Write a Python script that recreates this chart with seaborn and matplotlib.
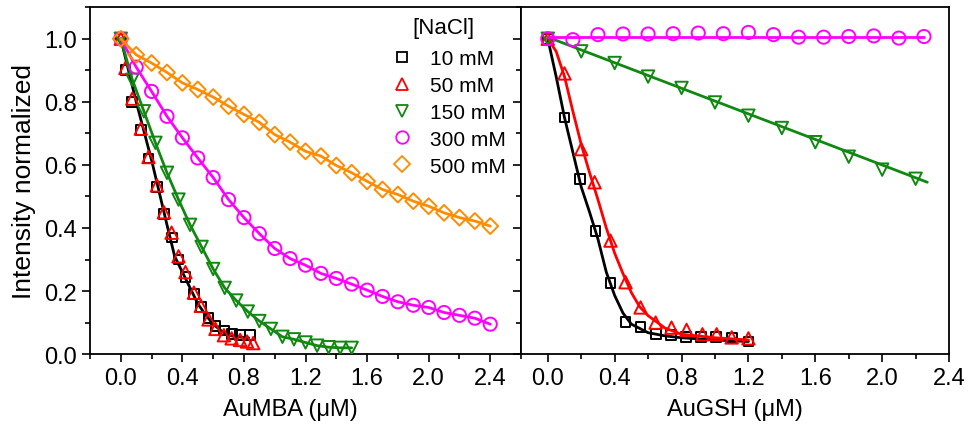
import matplotlib
matplotlib.use("Agg")
import matplotlib.pyplot as plt
import seaborn as sns
from matplotlib.lines import Line2D
from matplotlib.ticker import MultipleLocator, FormatStrFormatter

# ---------------- left panel: AuMBA ----------------
mba_10_x = [0, 0.03, 0.075, 0.13, 0.18, 0.235, 0.28, 0.33, 0.375, 0.42, 0.475, 0.52, 0.57, 0.615, 0.67, 0.72, 0.775, 0.84]
mba_10_y = [1.0, 0.90, 0.80, 0.71, 0.62, 0.53, 0.445, 0.37, 0.30, 0.245, 0.19, 0.15, 0.115, 0.09, 0.075, 0.065, 0.06, 0.06]
mba_50_x = [0, 0.03, 0.075, 0.13, 0.18, 0.235, 0.28, 0.33, 0.375, 0.42, 0.475, 0.52, 0.57, 0.615, 0.67, 0.72, 0.775, 0.82, 0.86]
mba_50_y = [1.0, 0.907, 0.81, 0.715, 0.625, 0.535, 0.45, 0.385, 0.31, 0.26, 0.195, 0.153, 0.11, 0.08, 0.06, 0.05, 0.045, 0.04, 0.035]
mba_150_x = [0, 0.075, 0.15, 0.225, 0.30, 0.375, 0.45, 0.525, 0.60, 0.675, 0.75, 0.825, 0.90, 0.975,
             1.05, 1.125, 1.20, 1.275, 1.35, 1.425, 1.5]
mba_150_y = [1.0, 0.87, 0.77, 0.67, 0.575, 0.49, 0.41, 0.34, 0.27, 0.21, 0.17, 0.135, 0.105, 0.08,
             0.055, 0.047, 0.037, 0.027, 0.022, 0.02, 0.02]
mba_300_x = [0, 0.1, 0.2, 0.3, 0.4, 0.5, 0.6, 0.7, 0.8, 0.9, 1.0, 1.1, 1.2, 1.3, 1.4, 1.5, 1.6,
             1.7, 1.8, 1.9, 2.0, 2.1, 2.2, 2.3, 2.4]
mba_300_y = [1.0, 0.91, 0.833, 0.754, 0.686, 0.622, 0.56, 0.49, 0.433, 0.382, 0.335, 0.303, 0.282,
             0.256, 0.24, 0.222, 0.203, 0.183, 0.166, 0.155, 0.148, 0.132, 0.123, 0.114, 0.095]
mba_500_x = mba_300_x
mba_500_y = [1.0, 0.949, 0.923, 0.893, 0.86, 0.839, 0.815, 0.786, 0.76, 0.735, 0.696, 0.672, 0.643,
             0.628, 0.598, 0.575, 0.548, 0.522, 0.506, 0.485, 0.469, 0.448, 0.433, 0.422, 0.406]

# fit curve for 10 mM
mba_fit10_x = [0, 0.1, 0.2, 0.3, 0.35, 0.4, 0.45, 0.5, 0.55, 0.6, 0.65, 0.7, 0.75, 0.83]
mba_fit10_y = [1.0, 0.80, 0.615, 0.41, 0.31, 0.26, 0.21, 0.16, 0.125, 0.095, 0.075, 0.06, 0.055, 0.052]

# ---------------- right panel: AuGSH ----------------
gsh_10_x = [0, 0.1, 0.195, 0.285, 0.375, 0.465, 0.555, 0.645, 0.735, 0.825, 0.915, 1.005, 1.1, 1.2]
gsh_10_y = [1.0, 0.75, 0.556, 0.39, 0.225, 0.102, 0.086, 0.064, 0.06, 0.055, 0.055, 0.055, 0.05, 0.04]
gsh_50_x = [0, 0.1, 0.2, 0.28, 0.375, 0.465, 0.555, 0.645, 0.74, 0.83, 0.925, 1.01, 1.1, 1.2]
gsh_50_y = [1.0, 0.89, 0.65, 0.545, 0.36, 0.228, 0.148, 0.10, 0.084, 0.077, 0.063, 0.063, 0.053, 0.05]
gsh_150_x = [0, 0.2, 0.4, 0.6, 0.8, 1.0, 1.2, 1.4, 1.6, 1.8, 2.0, 2.2]
gsh_150_y = [1.0, 0.96, 0.923, 0.88, 0.844, 0.798, 0.756, 0.717, 0.672, 0.626, 0.585, 0.556]
gsh_300_x = [0, 0.15, 0.3, 0.45, 0.6, 0.75, 0.9, 1.05, 1.2, 1.35, 1.5, 1.65, 1.8, 1.95, 2.1, 2.25]
gsh_300_y = [1.0, 0.997, 1.013, 1.015, 1.015, 1.016, 1.018, 1.016, 1.02, 1.013, 1.005, 1.005, 1.007,
             1.009, 1.002, 1.007]

gsh_fit10_x = [0, 0.05, 0.1, 0.15, 0.2, 0.25, 0.3, 0.35, 0.4, 0.45, 0.5, 0.6, 0.7, 0.8, 1.0, 1.2]
gsh_fit10_y = [1.0, 0.88, 0.75, 0.64, 0.53, 0.45, 0.365, 0.26, 0.186, 0.13, 0.095, 0.068, 0.058, 0.052, 0.045, 0.04]
gsh_fit50_x = [0, 0.05, 0.1, 0.15, 0.2, 0.25, 0.3, 0.35, 0.4, 0.45, 0.5, 0.55, 0.6, 0.7, 0.8, 1.0, 1.2]
gsh_fit50_y = [1.0, 0.96, 0.88, 0.77, 0.665, 0.575, 0.49, 0.40, 0.32, 0.255, 0.195, 0.15, 0.122, 0.083, 0.063, 0.052, 0.045]
gsh_fit150_x = [0, 2.27]
gsh_fit150_y = [1.005, 0.545]
gsh_fit300_x = [0, 2.25]
gsh_fit300_y = [1.007, 1.007]

labels = ['10 mM', '50 mM', '150 mM', '300 mM', '500 mM']
colors = ['black', '#FF0000', '#118811', '#FF00FF', '#FF8C00']
markers = ['s', '^', 'v', 'o', 'D']
sizes = [50, 80, 80, 90, 65]

sns.set_style("ticks")
plt.rcParams['font.family'] = ['Liberation Sans', 'DejaVu Sans']
for key in ('text.color', 'axes.labelcolor', 'xtick.color', 'ytick.color', 'axes.edgecolor'):
    plt.rcParams[key] = 'black'

fig = plt.figure(figsize=(9.71, 4.31), dpi=100)
ax1 = fig.add_axes([0.0927, 0.176, 0.4439, 0.805])
ax2 = fig.add_axes([0.5366, 0.176, 0.4408, 0.805])


def draw_points(ax, x, y, i):
    sns.scatterplot(x=x, y=y, ax=ax, marker=markers[i], s=sizes[i], facecolor='none',
                    edgecolor=colors[i], linewidth=1.4, zorder=3 + i)


def draw_line(ax, x, y, i):
    sns.lineplot(x=x, y=y, ax=ax, color=colors[i], linewidth=2.0, sort=False,
                 estimator=None, zorder=3 + i)


# left panel
draw_points(ax1, mba_10_x, mba_10_y, 0)
draw_points(ax1, mba_50_x, mba_50_y, 1)
draw_points(ax1, mba_150_x, mba_150_y, 2)
draw_points(ax1, mba_300_x, mba_300_y, 3)
draw_points(ax1, mba_500_x, mba_500_y, 4)
draw_line(ax1, mba_fit10_x, mba_fit10_y, 0)
draw_line(ax1, mba_150_x, mba_150_y, 2)
draw_line(ax1, mba_300_x, mba_300_y, 3)
draw_line(ax1, mba_500_x, mba_500_y, 4)

# right panel
draw_points(ax2, gsh_10_x, gsh_10_y, 0)
draw_points(ax2, gsh_50_x, gsh_50_y, 1)
draw_points(ax2, gsh_150_x, gsh_150_y, 2)
draw_points(ax2, gsh_300_x, gsh_300_y, 3)
draw_line(ax2, gsh_fit10_x, gsh_fit10_y, 0)
draw_line(ax2, gsh_fit50_x, gsh_fit50_y, 1)
draw_line(ax2, gsh_fit150_x, gsh_fit150_y, 2)
draw_line(ax2, gsh_fit300_x, gsh_fit300_y, 3)

for ax in (ax1, ax2):
    ax.set_ylim(0, 1.1)
    ax.xaxis.set_major_locator(MultipleLocator(0.4))
    ax.xaxis.set_minor_locator(MultipleLocator(0.2))
    ax.yaxis.set_major_locator(MultipleLocator(0.2))
    ax.yaxis.set_minor_locator(MultipleLocator(0.1))
    ax.tick_params(which='major', length=6, width=1.2, direction='out', labelsize=17, colors='black')
    ax.tick_params(which='minor', length=3.5, width=1.2, direction='out', colors='black')
    ax.xaxis.set_major_formatter(FormatStrFormatter('%.1f'))
    ax.yaxis.set_major_formatter(FormatStrFormatter('%.1f'))
    for sp in ax.spines.values():
        sp.set_visible(True)
        sp.set_linewidth(1.3)
        sp.set_color('black')

ax1.set_xlim(-0.2, 2.6)
ax1.set_xticks([0.0, 0.4, 0.8, 1.2, 1.6, 2.0, 2.4])
ax2.set_xlim(-0.16, 2.4)
ax2.tick_params(axis='y', labelleft=False)

ax1.set_xlabel('AuMBA (μM)', fontsize=17)
ax2.set_xlabel('AuGSH (μM)', fontsize=17)
ax1.xaxis.set_label_coords(0.464, -0.125)
ax2.xaxis.set_label_coords(0.5, -0.125)
ax1.set_ylabel('Intensity normalized', fontsize=19)
ax1.yaxis.set_label_coords(-0.125, 0.5)
ax2.set_ylabel('')

handles = [Line2D([], [], linestyle='none', marker=markers[i], markersize=[7, 9, 9, 9, 8][i],
                  markerfacecolor='none', markeredgecolor=colors[i], markeredgewidth=1.3)
           for i in range(5)]
leg = ax1.legend(handles, labels, title='[NaCl]', frameon=False, loc='upper right',
                 bbox_to_anchor=(0.994, 1.008), fontsize=15, title_fontsize=16,
                 labelspacing=0.38, handletextpad=0.35, borderaxespad=0.2)
leg._legend_box.align = 'center'
leg._legend_box.sep = 8

fig.savefig('out.png', dpi=100)
